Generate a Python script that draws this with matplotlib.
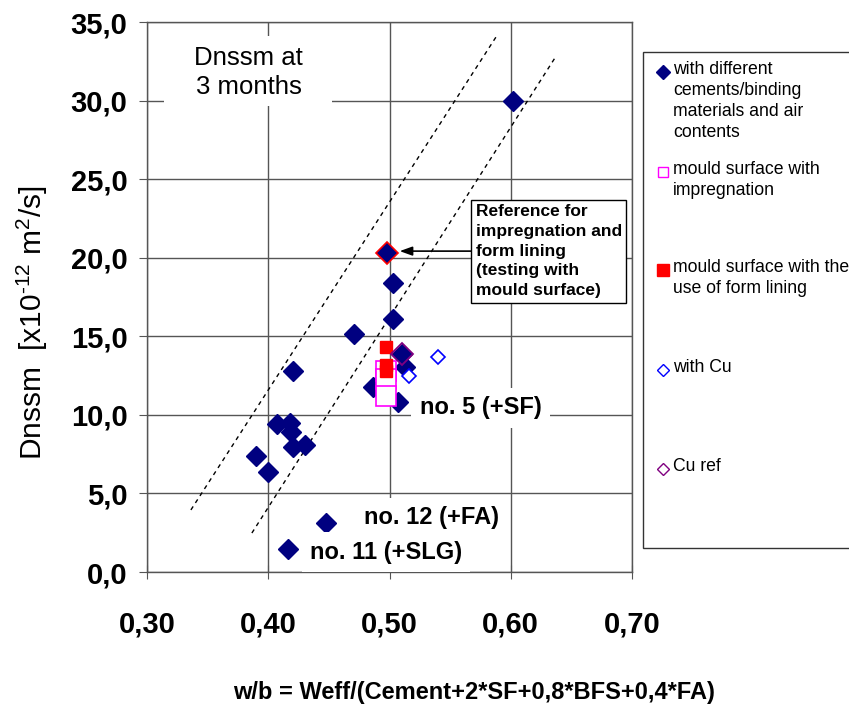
import matplotlib
matplotlib.use("Agg")
import matplotlib.pyplot as plt
from matplotlib.patches import Rectangle
from matplotlib.lines import Line2D
from matplotlib.ticker import FuncFormatter

plt.rcParams['font.family'] = ['Liberation Sans', 'DejaVu Sans']
plt.rcParams['mathtext.fontset'] = 'custom'
plt.rcParams['mathtext.rm'] = 'Liberation Sans'
plt.rcParams['mathtext.default'] = 'rm'

# with different cements/binding materials and air contents
cem_x = [0.602, 0.503, 0.503, 0.471, 0.420, 0.5125, 0.486, 0.507, 0.510,
         0.407, 0.418, 0.419, 0.420, 0.430, 0.390, 0.400, 0.4475, 0.416]
cem_y = [30.0, 18.4, 16.1, 15.15, 12.8, 13.05, 11.8, 10.8, 13.85,
         9.42, 9.48, 8.9, 7.95, 8.08, 7.38, 6.36, 3.12, 1.46]
# reference for impregnation and form lining
ref_x = [0.498]
ref_y = [20.3]
# mould surface with impregnation
imp_x = [0.497, 0.497, 0.497]
imp_y = [12.8, 12.3, 11.2]
# mould surface with form lining
lin_x = [0.497, 0.497, 0.497]
lin_y = [14.3, 13.15, 12.8]
# with Cu
cu_x = [0.540, 0.516]
cu_y = [13.7, 12.5]
# Cu ref
curef_x = [0.510]
curef_y = [13.85]

# dashed band lines
band_lo_x = [0.3362, 0.5883]
band_lo_y = [3.95, 34.1]
band_hi_x = [0.3865, 0.6369]
band_hi_y = [2.48, 32.77]

xticks = [0.30, 0.40, 0.50, 0.60, 0.70]
yticks = [0, 5, 10, 15, 20, 25, 30, 35]

legend_labels = ["with different\ncements/binding\nmaterials and air\ncontents",
                 "mould surface with\nimpregnation",
                 "mould surface with the\nuse of form lining",
                 "with Cu",
                 "Cu ref"]

fig = plt.figure(figsize=(8.49, 7.18), dpi=100)
ax = fig.add_axes([147/849, 1-572/718, (632-147)/849, (572-22)/718])

gc = '#555555'
ax.set_xlim(0.30, 0.70)
ax.set_ylim(0, 35)
ax.set_xticks(xticks)
ax.set_yticks(yticks)
ax.grid(True, color=gc, lw=1.0)
ax.set_axisbelow(True)
for s in ax.spines.values():
    s.set_color(gc)
    s.set_linewidth(1.0)
ax.xaxis.set_major_formatter(FuncFormatter(lambda v, p: f"{v:.2f}".replace('.', ',')))
ax.yaxis.set_major_formatter(FuncFormatter(lambda v, p: f"{v:.1f}".replace('.', ',')))
ax.tick_params(axis='x', direction='inout', length=10, color=gc, pad=23,
               labelsize=21)
ax.tick_params(axis='y', direction='out', length=6, color=gc, pad=8,
               labelsize=21)
for lab in ax.get_xticklabels() + ax.get_yticklabels():
    lab.set_fontweight('bold')

ax.plot(band_lo_x, band_lo_y, ls=(0, (3, 3)), color='black', lw=1.0, zorder=2)
ax.plot(band_hi_x, band_hi_y, ls=(0, (3, 3)), color='black', lw=1.0, zorder=2)

ax.plot(cem_x, cem_y, ls='none', marker='D', ms=10, mfc='#000080', mec='#000080', zorder=3)
ax.plot(imp_x, imp_y, ls='none', marker='s', ms=15, mfc='white', mec='#FF00FF', mew=1.2, zorder=4)
ax.plot(lin_x, lin_y, ls='none', marker='s', ms=8.5, mfc='#FF0000', mec='#FF0000', zorder=5)
ax.plot(cu_x, cu_y, ls='none', marker='D', ms=7.5, mfc='white', mec='#0000FF', mew=1.2, zorder=6)
ax.plot(curef_x, curef_y, ls='none', marker='D', ms=11, mfc='none', mec='#800080', mew=1.3, zorder=7)
ax.plot(ref_x, ref_y, ls='none', marker='D', ms=11, mfc='#000080', mec='#FF0000', mew=1.2, zorder=7)

# title box
ax.add_patch(Rectangle((0.314, 29.65), 0.1384, 4.45, facecolor='white', edgecolor='none', zorder=2))
ax.text(0.384, 31.8, "Dnssm at\n3 months", fontsize=18.5, ha='center', va='center',
        linespacing=1.25, zorder=3)

lab_box = dict(boxstyle='square,pad=0.35', facecolor='white', edgecolor='none')
ax.text(0.575, 10.44, "no. 5 (+SF)", fontsize=17, fontweight='bold', ha='center',
        va='center', bbox=lab_box, zorder=3)
ax.text(0.535, 3.44, "no. 12 (+FA)", fontsize=17, fontweight='bold', ha='center',
        va='center', bbox=lab_box, zorder=3)
ax.text(0.497, 1.27, "no. 11 (+SLG)", fontsize=17, fontweight='bold', ha='center',
        va='center', bbox=lab_box, zorder=3)

ax.annotate("Reference for\nimpregnation and\nform lining\n(testing with\nmould surface)",
            xy=(0.5084, 20.42), xytext=(0.571, 20.42), textcoords='data',
            fontsize=12.5, fontweight='bold', ha='left', va='center', linespacing=1.4,
            bbox=dict(boxstyle='square,pad=0.25', facecolor='white', edgecolor='black', lw=1.0),
            arrowprops=dict(arrowstyle='-|>,head_length=0.5,head_width=0.18', color='black',
                            lw=1.2, shrinkA=0, shrinkB=0, mutation_scale=15,
                            relpos=(0.0, 0.5)),
            zorder=8)

fig.text(32/849, 1-323/718, "Dnssm  [x10$^{\u201012}$ m$^2$/s]", rotation=90,
         ha='center', va='center', fontsize=21.5)
fig.text(474/849, 1-693/718, "w/b = Weff/(Cement+2*SF+0,8*BFS+0,4*FA)",
         ha='center', va='center', fontsize=17, fontweight='bold')

# legend box
W, H = 849, 718
fig.patches.append(Rectangle((643/W, 1-548/H), 0.30, (548-52)/H, transform=fig.transFigure,
                             facecolor='white', edgecolor='#333333', lw=1.0, figure=fig))
leg_style = [dict(marker='D', ms=7, mfc='#000080', mec='#000080'),
             dict(marker='s', ms=7.5, mfc='white', mec='#FF00FF', mew=1.0),
             dict(marker='s', ms=8, mfc='#FF0000', mec='#FF0000'),
             dict(marker='D', ms=6.5, mfc='white', mec='#0000FF', mew=1.0),
             dict(marker='D', ms=6.5, mfc='white', mec='#800080', mew=1.0)]
leg_top = [72, 172, 270, 370, 469]
for lbl, st, yy in zip(legend_labels, leg_style, leg_top):
    fig.lines.append(Line2D([663/W], [1-yy/H], transform=fig.transFigure, ls='none',
                            figure=fig, **st))
    fig.text(673/W, 1-(yy-11)/H, lbl, fontsize=12.7, ha='left', va='top', linespacing=1.3)

fig.savefig("out.png", dpi=100)
